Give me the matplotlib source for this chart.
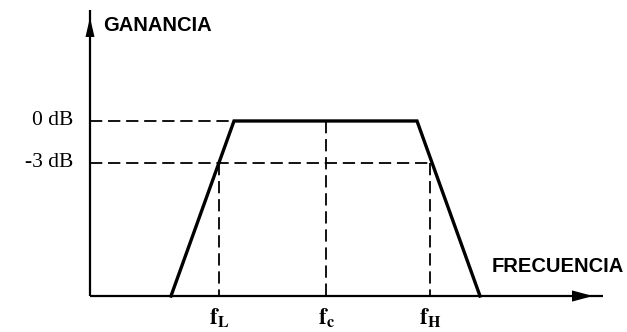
import matplotlib
matplotlib.use("Agg")
import matplotlib.pyplot as plt
from matplotlib.patches import Polygon

# Band-pass response (schematic): frequency in arbitrary units, gain in dB
freq_curve = [81, 144, 327, 390]
gain_curve = [-12.5, 0.0, 0.0, -12.5]

# Reference levels
level_values = [0.0, -3.0]
level_labels = ["0 dB", "-3 dB"]

# Characteristic frequencies
f_names = ["L", "c", "H"]
f_values = [129, 236, 340]

axis_floor = -12.5
x_end = 513
y_end = 7.9

fig = plt.figure(figsize=(6.27, 3.32), dpi=100)
ax = fig.add_axes([0, 0, 1, 1])
ax.set_xlim(-90, 537)
ax.set_ylim(-15.07, 8.64)
ax.axis("off")

ink = "#000000"
dash = dict(color=ink, lw=1.3, linestyle=(0, (6.8, 3.2)))

# Axes with arrow heads
ax.plot([0, 0], [axis_floor, y_end], color=ink, lw=1.6, solid_capstyle="butt")
ax.plot([0, x_end], [axis_floor, axis_floor], color=ink, lw=1.6, solid_capstyle="butt")
ax.add_patch(Polygon([[-4.5, 6.0], [4.5, 6.0], [0, 7.4]], closed=True,
                     color=ink, lw=0))
ax.add_patch(Polygon([[482, axis_floor + 0.4], [482, axis_floor - 0.4],
                      [503, axis_floor]], closed=True, color=ink, lw=0))

# Dashed reference lines
ax.plot([0, freq_curve[1]], [level_values[0]] * 2, **dash)
ax.plot([0, f_values[2]], [level_values[1]] * 2, **dash)
ax.plot([f_values[0]] * 2, [level_values[1], axis_floor], **dash)
ax.plot([f_values[1]] * 2, [level_values[0], axis_floor], **dash)
ax.plot([f_values[2]] * 2, [level_values[1], axis_floor], **dash)

# Response curve
ax.plot(freq_curve, gain_curve, color=ink, lw=2.4, solid_joinstyle="miter")

# Level labels
for v, lab in zip(level_values, level_labels):
    ax.text(-17, v, lab, ha="right", va="center", fontsize=15.5,
            family="Liberation Serif", color=ink)

# Frequency labels
plt.rcParams["mathtext.fontset"] = "stix"
for name, fv in zip(f_names, f_values):
    ax.text(fv, -14.1, r"$\mathbf{f_{%s}}$" % name, ha="center", va="center",
            fontsize=16.5, color=ink)

# Axis titles
ax.text(13, 6.85, "GANANCIA", ha="left", va="center", fontsize=14.5,
        family="Liberation Sans", weight="bold", color=ink)
ax.text(534, -10.4, "FRECUENCIA", ha="right", va="center", fontsize=14.5,
        family="Liberation Sans", weight="bold", color=ink)

fig.savefig("out.png", dpi=100)
